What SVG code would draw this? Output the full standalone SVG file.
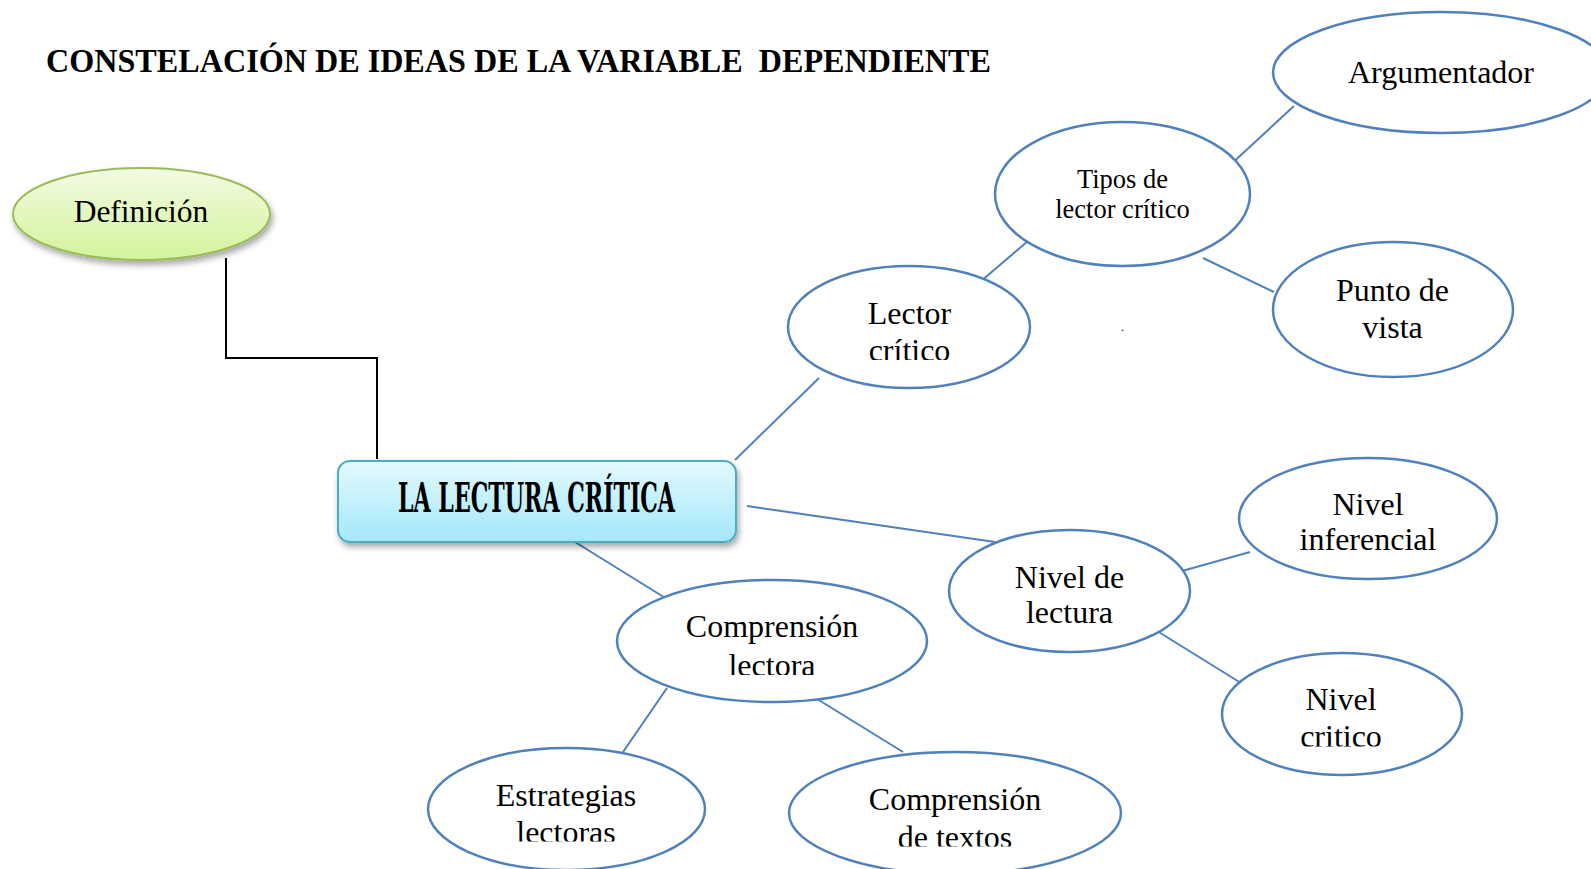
<svg xmlns="http://www.w3.org/2000/svg" width="1591" height="869" viewBox="0 0 1591 869">
<style>
.t{font-family:"Liberation Serif","Times New Roman",serif;fill:#000;text-anchor:middle}
.e{fill:#fff;stroke:#4f81bd;stroke-width:2.5}
.c{stroke:#4f81bd;stroke-width:2;fill:none}
</style>
<defs>
<linearGradient id="gG" x1="0" y1="0" x2="0" y2="1">
<stop offset="0" stop-color="#f3fbe3"/>
<stop offset="1" stop-color="#d3f39b"/>
</linearGradient>
<linearGradient id="gB" x1="0" y1="0" x2="0" y2="1">
<stop offset="0" stop-color="#e4f9fe"/>
<stop offset="1" stop-color="#a3e8fb"/>
</linearGradient>
<filter id="sh" x="-20%" y="-20%" width="140%" height="160%">
<feDropShadow dx="2" dy="4" stdDeviation="3" flood-color="#000" flood-opacity="0.35"/>
</filter>
<clipPath id="cl1"><rect x="700" y="250" width="400" height="110"/></clipPath>
<clipPath id="cl2"><rect x="600" y="580" width="350" height="95"/></clipPath>
<clipPath id="cl3"><rect x="1200" y="650" width="300" height="96.5"/></clipPath>
<clipPath id="cl4"><rect x="420" y="740" width="300" height="101.5"/></clipPath>
<clipPath id="cl5"><rect x="780" y="750" width="350" height="96.5"/></clipPath>
</defs>
<rect width="1591" height="869" fill="#fff"/>

<text x="46" y="72" font-family="Liberation Serif,serif" font-weight="bold" font-size="34" textLength="945" lengthAdjust="spacingAndGlyphs" xml:space="preserve">CONSTELACIÓN DE IDEAS DE LA VARIABLE  DEPENDIENTE</text>

<g id="connectors">
<polyline points="226,258 226,358 377,358 377,459" fill="none" stroke="#000" stroke-width="2"/>
<line class="c" x1="735" y1="460" x2="819" y2="378"/>
<line class="c" x1="980" y1="282" x2="1028" y2="241"/>
<line class="c" x1="1228" y1="167" x2="1294" y2="106"/>
<line class="c" x1="1203" y1="258" x2="1274" y2="292"/>
<line class="c" x1="747" y1="506" x2="995" y2="542"/>
<line class="c" x1="1182" y1="571" x2="1250" y2="552"/>
<line class="c" x1="1157" y1="631" x2="1249" y2="688"/>
<line class="c" x1="575" y1="542" x2="667" y2="599"/>
<line class="c" x1="667" y1="688" x2="623" y2="752"/>
<line class="c" x1="809" y1="694" x2="903" y2="752"/>
</g>

<g id="definicion">
<ellipse cx="141.5" cy="214" rx="128.5" ry="46" fill="url(#gG)" stroke="#9bbb59" stroke-width="2" filter="url(#sh)"/>
<text class="t" x="141" y="222" font-size="31.5">Definición</text>
</g>

<g id="central">
<rect x="338" y="461" width="398" height="81" rx="12" fill="url(#gB)" stroke="#4bacc6" stroke-width="2" filter="url(#sh)"/>
<text x="398" y="512" font-family="DejaVu Serif,serif" font-weight="bold" font-stretch="condensed" font-size="41" textLength="277" lengthAdjust="spacingAndGlyphs">LA LECTURA CRÍTICA</text>
</g>

<g id="lector">
<ellipse class="e" cx="909" cy="327" rx="121" ry="61"/>
<g clip-path="url(#cl1)">
<text class="t" x="909.5" y="324" font-size="32">Lector</text>
<text class="t" x="909.5" y="361" font-size="32">crítico</text>
</g>
</g>

<g id="tipos">
<ellipse class="e" cx="1122.5" cy="194" rx="127.5" ry="72"/>
<text class="t" x="1122.5" y="188" font-size="26.5">Tipos de</text>
<text class="t" x="1122.5" y="218" font-size="26.5">lector crítico</text>
</g>

<text x="1121" y="331" font-family="Liberation Serif,serif" font-size="12">.</text>

<g id="argumentador">
<ellipse class="e" cx="1441" cy="72.5" rx="168" ry="60.5"/>
<text class="t" x="1441" y="83" font-size="32">Argumentador</text>
</g>

<g id="punto">
<ellipse class="e" cx="1393" cy="309.5" rx="120" ry="67.5"/>
<text class="t" x="1392.5" y="301" font-size="32">Punto de</text>
<text class="t" x="1392.5" y="338" font-size="32">vista</text>
</g>

<g id="nivellectura">
<ellipse class="e" cx="1069.5" cy="591" rx="120.5" ry="61"/>
<text class="t" x="1069.5" y="588" font-size="32">Nivel de</text>
<text class="t" x="1069.5" y="623" font-size="32">lectura</text>
</g>

<g id="inferencial">
<ellipse class="e" cx="1368" cy="518.5" rx="129" ry="60.5"/>
<text class="t" x="1368" y="515" font-size="32">Nivel</text>
<text class="t" x="1368" y="550" font-size="32">inferencial</text>
</g>

<g id="critico">
<ellipse class="e" cx="1342" cy="714" rx="120" ry="61"/>
<g clip-path="url(#cl3)">
<text class="t" x="1341" y="747" font-size="32" dy="0">critico</text>
<text class="t" x="1341" y="710" font-size="32">Nivel</text>
</g>
</g>

<g id="comprension">
<ellipse class="e" cx="772" cy="641" rx="155" ry="61"/>
<g clip-path="url(#cl2)">
<text class="t" x="772" y="637" font-size="32">Comprensión</text>
<text class="t" x="772" y="676" font-size="32">lectora</text>
</g>
</g>

<g id="estrategias">
<ellipse class="e" cx="566.5" cy="809" rx="138.5" ry="61"/>
<g clip-path="url(#cl4)">
<text class="t" x="566" y="806" font-size="32">Estrategias</text>
<text class="t" x="566" y="843" font-size="32">lectoras</text>
</g>
</g>

<g id="textos">
<ellipse class="e" cx="955" cy="813" rx="166" ry="61"/>
<g clip-path="url(#cl5)">
<text class="t" x="955" y="810" font-size="32">Comprensión</text>
<text class="t" x="955" y="848" font-size="32">de textos</text>
</g>
</g>
</svg>
